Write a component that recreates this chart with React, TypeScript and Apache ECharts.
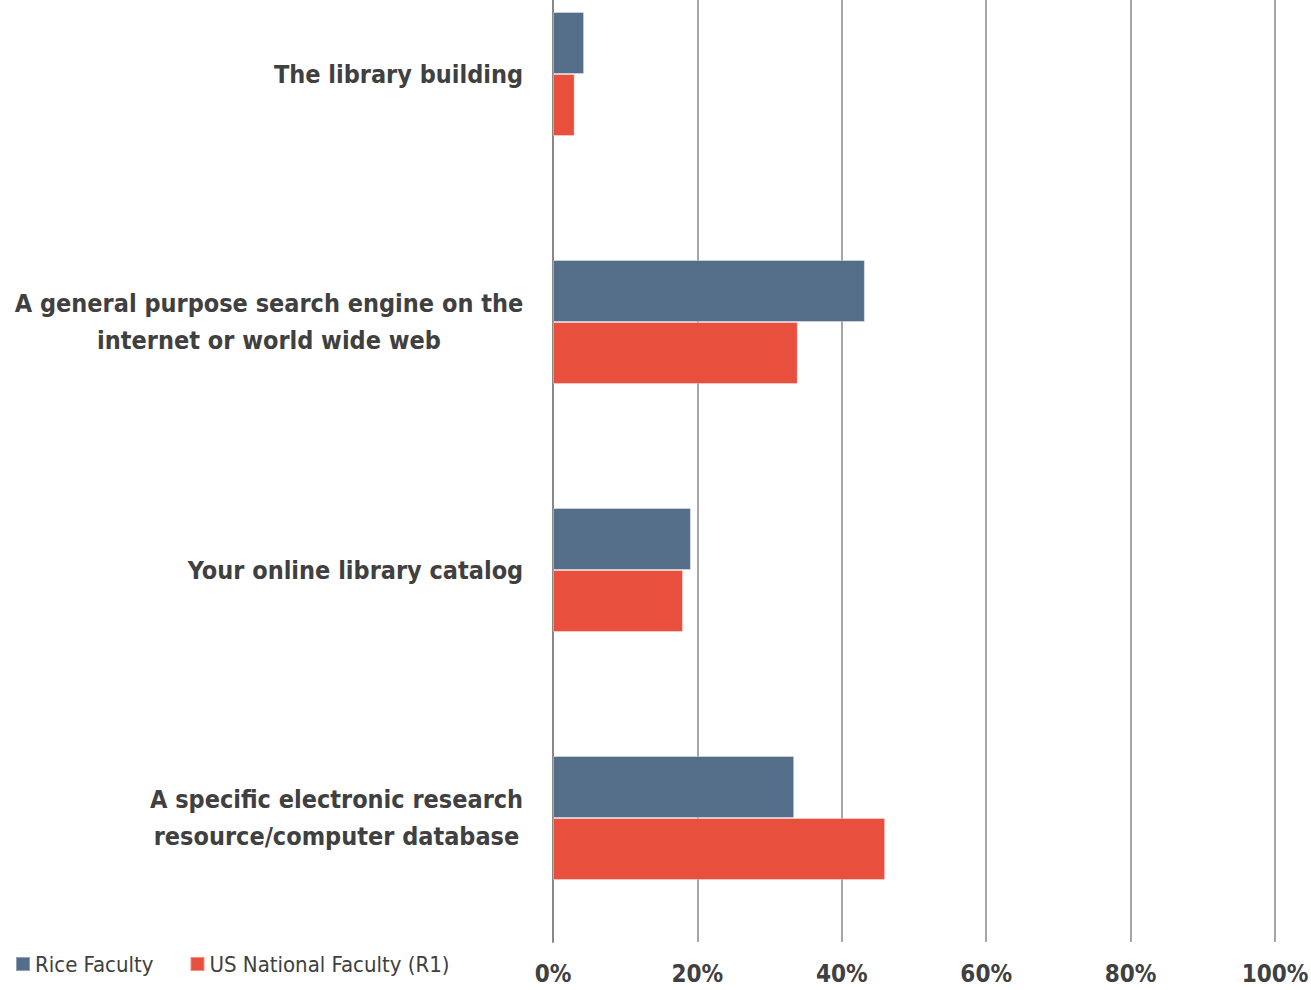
import React, { useEffect, useRef } from "react";
import * as echarts from "echarts";

const categories = [
  "The library building",
  "A general purpose search engine on the\ninternet or world wide web",
  "Your online library catalog",
  "A specific electronic research\nresource/computer database",
];
const seriesNames = ["Rice Faculty", "US National Faculty (R1)"];
const riceFaculty = [4.3, 43.2, 19.1, 33.4];
const usNationalFaculty = [3.0, 33.9, 18.0, 46.0];
const xMin = 0;
const xMax = 100;
const xInterval = 20;

const FONT = "'Liberation Sans Narrow', 'Arial Narrow', 'DejaVu Sans Condensed', sans-serif";
const TEXT_COLOR = "#404040";
const CAT_FONT_SIZE = 25;

function measure(text: string, font: string): number {
  const c = document.createElement("canvas");
  const ctx = c.getContext("2d");
  if (!ctx) return text.length * 12;
  ctx.font = font;
  return ctx.measureText(text).width;
}

export default function App() {
  const ref = useRef<HTMLDivElement>(null);
  useEffect(() => {
    if (!ref.current) return;
    const chart = echarts.init(ref.current, null, { renderer: "svg" });
    const catFont = `bold ${CAT_FONT_SIZE}px ${FONT}`;
    const rich: Record<string, any> = {};
    categories.forEach((c, i) => {
      const lines = c.split("\n");
      const w = Math.ceil(Math.max(...lines.map((l) => measure(l, catFont)))) + 1;
      rich["c" + i] = {
        width: w,
        align: "center",
        fontSize: CAT_FONT_SIZE,
        fontWeight: "bold",
        fontFamily: FONT,
        color: TEXT_COLOR,
        lineHeight: 37,
      };
    });
    chart.setOption({
      animation: false,
      backgroundColor: "#ffffff",
      grid: {
        left: 553,
        right: 36,
        top: -50,
        bottom: 48,
        containLabel: false,
        outerBoundsMode: "none",
      },
      legend: {
        data: seriesNames,
        left: 10,
        top: 948,
        icon: "rect",
        itemWidth: 14,
        itemHeight: 14,
        itemGap: 36,
        textStyle: { fontSize: 22, color: TEXT_COLOR, fontFamily: FONT },
      },
      xAxis: {
        type: "value",
        min: xMin,
        max: xMax,
        interval: xInterval,
        axisLine: { show: false },
        axisTick: { show: false },
        splitLine: { show: true, lineStyle: { color: "#888888", width: 1.5 } },
        axisLabel: {
          formatter: "{value}%",
          fontSize: 24,
          fontWeight: "bold",
          fontFamily: FONT,
          color: TEXT_COLOR,
          margin: 20,
        },
      },
      yAxis: {
        type: "category",
        inverse: true,
        data: categories,
        axisLine: { show: true, lineStyle: { color: "#888888", width: 2 } },
        axisTick: { show: false },
        axisLabel: {
          margin: 29,
          formatter: (v: string) => {
            const i = categories.indexOf(v);
            return v
              .split("\n")
              .map((l) => `{c${i}|${l}}`)
              .join("\n");
          },
          rich,
        },
      },
      series: [
        {
          name: seriesNames[0],
          type: "bar",
          data: riceFaculty,
          barGap: "0%",
          barCategoryGap: "50%",
          itemStyle: { color: "#546E89", borderColor: "rgba(255,255,255,0.35)", borderWidth: 1 },
        },
        {
          name: seriesNames[1],
          type: "bar",
          data: usNationalFaculty,
          barGap: "0%",
          barCategoryGap: "50%",
          itemStyle: { color: "#E94F3D", borderColor: "rgba(255,255,255,0.35)", borderWidth: 1 },
        },
      ],
    });
    return () => chart.dispose();
  }, []);
  return (
    <div
      ref={ref}
      style={{ position: "fixed", left: 0, top: 0, width: 1311, height: 990 }}
    />
  );
}
